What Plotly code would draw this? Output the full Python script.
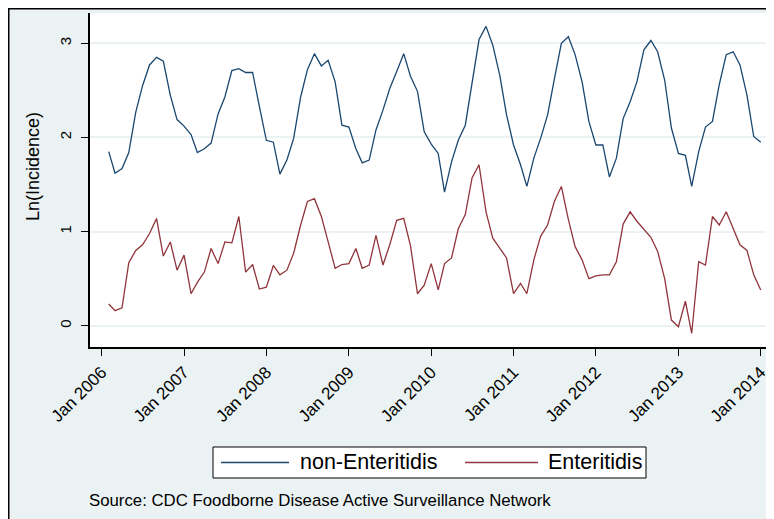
import pandas as pd
import plotly.graph_objects as go

# ---- data ----
months = pd.date_range("2006-02-01", periods=96, freq="MS")

non_enteritidis = [
    1.85, 1.62, 1.67, 1.84, 2.27, 2.55, 2.77, 2.85, 2.81, 2.45, 2.19, 2.12,
    2.03, 1.84, 1.88, 1.94, 2.25, 2.43, 2.71, 2.73, 2.69, 2.69, 2.33, 1.97,
    1.95, 1.61, 1.76, 1.99, 2.43, 2.72, 2.89, 2.76, 2.82, 2.59, 2.13, 2.11,
    1.88, 1.73, 1.76, 2.08, 2.29, 2.52, 2.70, 2.89, 2.65, 2.49, 2.06, 1.93,
    1.83, 1.42, 1.74, 1.97, 2.13, 2.59, 3.04, 3.18, 2.98, 2.66, 2.24, 1.92,
    1.71, 1.48, 1.78, 1.99, 2.24, 2.62, 3.00, 3.07, 2.88, 2.59, 2.17, 1.92,
    1.92, 1.58, 1.78, 2.20, 2.38, 2.59, 2.93, 3.03, 2.91, 2.61, 2.10, 1.83,
    1.81, 1.48, 1.85, 2.11, 2.17, 2.56, 2.88, 2.91, 2.77, 2.45, 2.01, 1.95,
]

enteritidis = [
    0.23, 0.16, 0.19, 0.67, 0.80, 0.86, 0.98, 1.14, 0.74, 0.89, 0.59, 0.75,
    0.34, 0.46, 0.57, 0.82, 0.66, 0.89, 0.88, 1.16, 0.57, 0.65, 0.39, 0.41,
    0.64, 0.54, 0.59, 0.77, 1.07, 1.32, 1.35, 1.16, 0.89, 0.61, 0.65, 0.66,
    0.82, 0.61, 0.645, 0.96, 0.645, 0.86, 1.12, 1.14, 0.85, 0.34, 0.43, 0.66,
    0.38, 0.66, 0.72, 1.03, 1.18, 1.57, 1.71, 1.21, 0.93, 0.82, 0.72, 0.34,
    0.45, 0.34, 0.70, 0.95, 1.07, 1.32, 1.48, 1.13, 0.84, 0.70, 0.50, 0.53,
    0.54, 0.54, 0.68, 1.08, 1.21, 1.11, 1.02, 0.94, 0.79, 0.50, 0.06, -0.01,
    0.26, -0.08, 0.68, 0.645, 1.16, 1.07, 1.21, 1.03, 0.86, 0.80, 0.54, 0.38,
]

x_tick_vals = ["2006-01-01", "2007-01-01", "2008-01-01", "2009-01-01", "2010-01-01",
               "2011-01-01", "2012-01-01", "2013-01-01", "2014-01-01"]
x_tick_text = ["Jan 2006", "Jan 2007", "Jan 2008", "Jan 2009", "Jan 2010",
               "Jan 2011", "Jan 2012", "Jan 2013", "Jan 2014"]
y_tick_vals = [0, 1, 2, 3]
y_tick_text = ["0", "1", "2", "3"]

series_names = ["non-Enteritidis", "Enteritidis"]
source_text = "Source: CDC Foodborne Disease Active Surveillance Network"
y_title = "Ln(Incidence)"

# ---- styling ----
NAVY = "#1A476F"
MAROON = "#90353B"
BG = "#EAF2F3"
FONT = "Liberation Sans, Arial, sans-serif"

OFF = 8  # page offset of the figure inside the browser page
W, H = 774, 519
L, R, T, B = 82, 10, 5, 180
PW, PH = W - L - R, H - T - B


def px(xp):
    """page x pixel -> paper x"""
    return (xp - OFF - L) / PW


def py(yp):
    """page y pixel -> paper y"""
    return (H - B - (yp - OFF)) / PH


fig = go.Figure()
fig.add_trace(go.Scatter(x=months, y=non_enteritidis, mode="lines",
                         line=dict(color=NAVY, width=1.3), name=series_names[0],
                         showlegend=False))
fig.add_trace(go.Scatter(x=months, y=enteritidis, mode="lines",
                         line=dict(color=MAROON, width=1.3), name=series_names[1],
                         showlegend=False))

shapes = [
    # outer frame
    dict(type="rect", xref="paper", yref="paper", x0=px(8.7), x1=px(800),
         y0=py(560), y1=py(8.7), line=dict(color="black", width=1.6), layer="above"),
    # legend box
    dict(type="rect", xref="paper", yref="paper", x0=px(213), x1=px(646),
         y0=py(478), y1=py(447), fillcolor="white", line=dict(color="black", width=1)),
    dict(type="line", xref="paper", yref="paper", x0=px(221), x1=px(289),
         y0=py(462.5), y1=py(462.5), line=dict(color=NAVY, width=1.3)),
    dict(type="line", xref="paper", yref="paper", x0=px(465), x1=px(538),
         y0=py(462.5), y1=py(462.5), line=dict(color=MAROON, width=1.3)),
]

annotations = [
    dict(text=series_names[0], xref="paper", yref="paper", x=px(298), y=py(462.5),
         xanchor="left", yanchor="middle", showarrow=False,
         font=dict(family=FONT, size=21.5, color="black")),
    dict(text=series_names[1], xref="paper", yref="paper", x=px(546), y=py(462.5),
         xanchor="left", yanchor="middle", showarrow=False,
         font=dict(family=FONT, size=21.5, color="black")),
    dict(text=source_text, xref="paper", yref="paper", x=px(87), y=py(500),
         xanchor="left", yanchor="middle", showarrow=False,
         font=dict(family=FONT, size=16.8, color="black")),
    dict(text=y_title, xref="paper", yref="paper", x=px(33), y=py(167),
         xanchor="center", yanchor="middle", showarrow=False, textangle=-90,
         font=dict(family=FONT, size=18, color="black")),
]

fig.update_layout(
    width=W, height=H,
    margin=dict(l=L, r=R, t=T, b=B, pad=0),
    paper_bgcolor=BG, plot_bgcolor="white",
    showlegend=False,
    font=dict(family=FONT, color="black"),
    shapes=shapes, annotations=annotations,
    xaxis=dict(type="date", range=["2005-11-10", "2014-02-20"],
               tickmode="array", tickvals=x_tick_vals, ticktext=x_tick_text,
               tickangle=-45, ticks="outside", ticklen=7, tickwidth=1,
               tickcolor="black", showline=True, linecolor="black", linewidth=1.5,
               showgrid=False, zeroline=False,
               tickfont=dict(family=FONT, size=17, color="black")),
    yaxis=dict(range=[-0.226, 3.322], tickmode="array", tickvals=y_tick_vals,
               ticktext=y_tick_text, tickangle=-90, ticks="outside", ticklen=7,
               tickwidth=1, tickcolor="black", showline=True, linecolor="black",
               linewidth=1.5, showgrid=True, gridcolor=BG, gridwidth=1.5,
               zeroline=False, ticklabelstandoff=4,
               tickfont=dict(family=FONT, size=15, color="black")),
)

fig.write_html("out.html")
